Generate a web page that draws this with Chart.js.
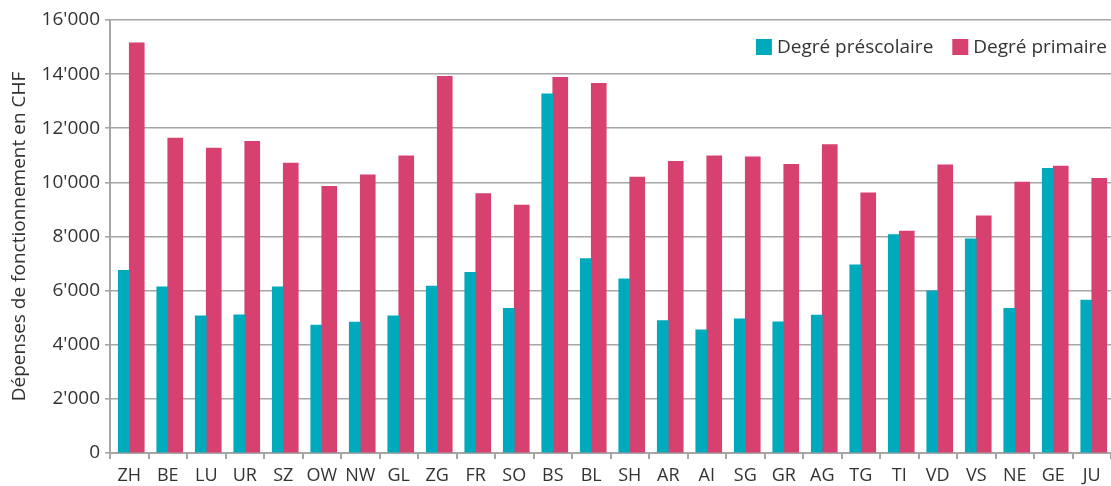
<!DOCTYPE html>
<html>
<head>
<meta charset="utf-8">
<script src="https://cdn.jsdelivr.net/npm/chart.js@4"></script>
<style>
  body { margin: 0; background: #fff; }
  #wrap { width: 1111px; height: 486px; position: relative; }
</style>
</head>
<body>
<div id="wrap"><canvas id="costChart"></canvas></div>
<script>
const cantons = ['ZH','BE','LU','UR','SZ','OW','NW','GL','ZG','FR','SO','BS','BL','SH','AR','AI','SG','GR','AG','TG','TI','VD','VS','NE','GE','JU'];
const preschool = [6750,6140,5070,5110,6140,4730,4840,5070,6170,6680,5350,13270,7180,6440,4890,4550,4960,4850,5100,6950,8070,5990,7910,5350,10520,5650];
const primary = [15160,11640,11270,11520,10710,9850,10280,10980,13920,9590,9160,13880,13660,10200,10780,10980,10940,10670,11400,9610,8200,10650,8760,10010,10600,10150];
const seriesNames = ['Degré préscolaire', 'Degré primaire'];
const colors = ['#00AABD', '#D6416F'];
const yTicks = [0, 2000, 4000, 6000, 8000, 10000, 12000, 14000, 16000];

const gridGray = '#a6a6a6';
const textGray = '#333333';
const fontFamily = '"Open Sans", "Noto Sans", sans-serif';

function fmt(v) {
  return String(v).replace(/\B(?=(\d{3})+(?!\d))/g, "'");
}

// legend drawn inside the plot, top right
const insideLegend = {
  id: 'insideLegend',
  afterDraw(chart) {
    const ctx = chart.ctx;
    const area = chart.chartArea;
    ctx.save();
    ctx.font = '19px ' + fontFamily;
    ctx.textBaseline = 'middle';
    const box = 16, gap = 5, spacing = 19;
    const items = chart.data.datasets.map(d => ({ label: d.label, color: d.backgroundColor }));
    let total = 0;
    items.forEach((it, i) => {
      it.w = ctx.measureText(it.label).width;
      total += box + gap + it.w + (i < items.length - 1 ? spacing : 0);
    });
    let x = area.right - 4 - total;
    const y = 47;
    items.forEach(it => {
      ctx.fillStyle = it.color;
      ctx.fillRect(x, y - box / 2, box, box);
      x += box + gap;
      ctx.fillStyle = textGray;
      ctx.fillText(it.label, x, y + 1);
      x += it.w + spacing;
    });
    ctx.restore();
  }
};

window.onload = () => {
  const ctx = document.getElementById('costChart').getContext('2d');
  new Chart(ctx, {
    type: 'bar',
    data: {
      labels: cantons,
      datasets: [
        { label: seriesNames[0], data: preschool, backgroundColor: colors[0], barThickness: 11 },
        { label: seriesNames[1], data: primary, backgroundColor: colors[1], barThickness: 15 }
      ]
    },
    options: {
      responsive: true,
      maintainAspectRatio: false,
      animation: false,
      layout: { padding: { top: 20, right: 0, left: 0, bottom: 0 } },
      plugins: {
        legend: { display: false },
        tooltip: { enabled: false }
      },
      scales: {
        x: {
          grid: { drawOnChartArea: false, drawTicks: true, tickLength: 6, color: gridGray, lineWidth: 2, offset: true },
          border: { color: gridGray, width: 2 },
          ticks: { color: textGray, font: { family: fontFamily, size: 18 }, padding: 6, maxRotation: 0, autoSkip: false },
          afterFit(scale) { scale.height = 33; }
        },
        y: {
          min: 0,
          max: 16000,
          afterBuildTicks(scale) { scale.ticks = yTicks.map(v => ({ value: v })); },
          grid: { color: gridGray, lineWidth: 1.6, tickLength: 5, drawTicks: true },
          border: { color: gridGray, width: 2 },
          ticks: { color: textGray, font: { family: fontFamily, size: 19 }, padding: 5, callback: v => fmt(v) },
          title: {
            display: true,
            text: 'Dépenses de fonctionnement en CHF',
            color: textGray,
            font: { family: fontFamily, size: 19 },
            padding: { top: 8, bottom: 0 }
          },
          afterFit(scale) { scale.width = 110; }
        }
      }
    },
    plugins: [insideLegend]
  });
};
</script>
</body>
</html>
